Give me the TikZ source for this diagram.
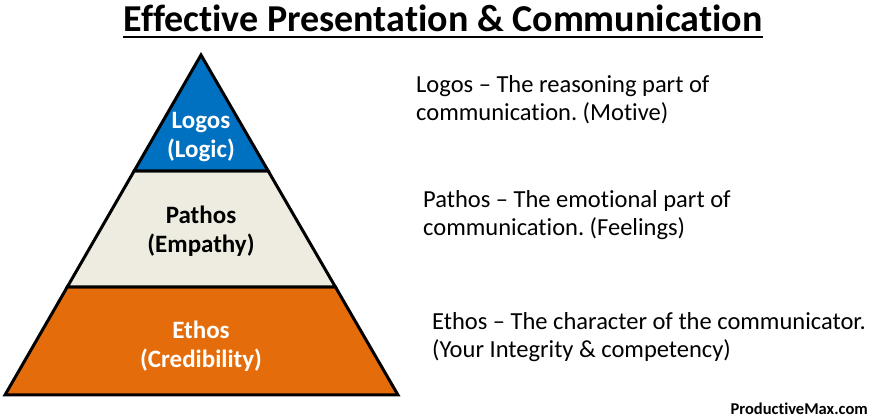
\documentclass[tikz,border=0pt]{standalone}
\usepackage{fontspec}
\setmainfont{Carlito}[Ligatures=NoCommon]
\usetikzlibrary{calc}
\definecolor{logosblue}{HTML}{0070C0}
\definecolor{pathosbeige}{HTML}{EEECE1}
\definecolor{ethosorange}{HTML}{E46C0A}
\frenchspacing

\begin{document}
\begin{tikzpicture}[
    x=1pt, y=-1pt, % pixel-like grid, (0,0) at top left
    tier/.style={draw=black, line width=3pt, line join=miter},
    tierlabel/.style={font=\fontsize{25}{29}\selectfont\bfseries, align=center},
    desc/.style={font=\fontsize{24.5}{28}\selectfont, align=left, anchor=base west, inner sep=0pt}
]
\useasboundingbox (0,0) rectangle (876,419);
% pyramid corners
\coordinate (apex) at (201,55);
\coordinate (bl) at (5,395);
\coordinate (br) at (398,395);
\coordinate (l1) at ($(apex)!0.341!(bl)$);
\coordinate (r1) at ($(apex)!0.341!(br)$);
\coordinate (l2) at ($(apex)!0.682!(bl)$);
\coordinate (r2) at ($(apex)!0.682!(br)$);
\filldraw[tier, fill=ethosorange] (l2) -- (r2) -- (br) -- (bl) -- cycle;
\filldraw[tier, fill=pathosbeige] (l1) -- (r1) -- (r2) -- (l2) -- cycle;
\filldraw[tier, fill=logosblue] (apex) -- (r1) -- (l1) -- cycle;
% labels inside
\node[tierlabel, text=white] (logos) at (201,137.5) {Logos\\(Logic)};
\node[tierlabel, text=black] (pathos) at (201,231) {Pathos\\(Empathy)};
\node[tierlabel, text=white] (ethos) at (201,346) {Ethos\\(Credibility)};
% title
\node[font=\fontsize{38}{44}\selectfont\bfseries, anchor=base, inner sep=0pt] (title) at (443,32)
  {Effective Presentation \& Communication};
\draw[line width=2.5pt] ([yshift=-5pt]title.base west) -- ([yshift=-5pt]title.base east);
% descriptions (placed by the baseline of the last line)
\node[desc] (logosdesc) at (416,121) {Logos -- The reasoning part of\\communication. (Motive)};
\node[desc] (pathosdesc) at (423,236) {Pathos -- The emotional part of\\communication. (Feelings)};
\node[desc] (ethosdesc) at (432,358) {Ethos -- The character of the communicator.\\(Your Integrity \& competency)};
\node[font=\fontsize{16.5}{20}\selectfont\bfseries, anchor=base east, inner sep=0pt] (site) at (868,415) {ProductiveMax.com};
\end{tikzpicture}
\end{document}
